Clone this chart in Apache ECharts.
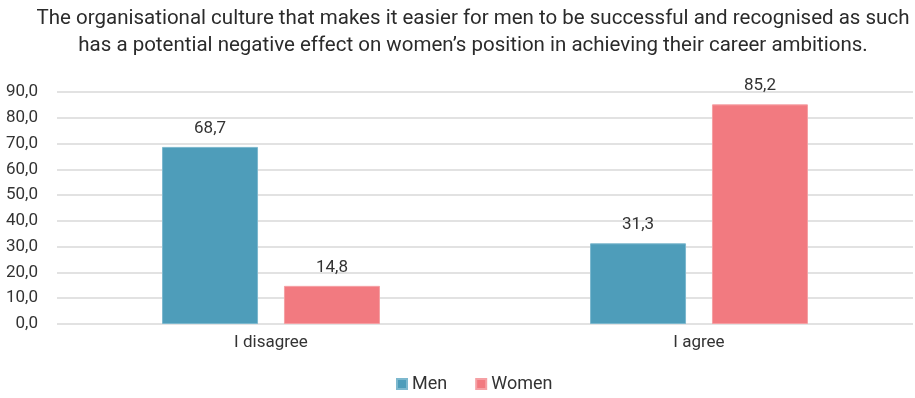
<!DOCTYPE html>
<html><head><meta charset="utf-8">
<script src="https://cdn.jsdelivr.net/npm/echarts@6/dist/echarts.min.js"></script>
<style>html,body{margin:0;padding:0;background:#fff}#c{width:915px;height:398px}</style>
</head><body><div id="c"></div>
<script>
const categories = ['I disagree', 'I agree'];
const men = [68.7, 31.3];
const women = [14.8, 85.2];
const titleText = 'The organisational culture that makes it easier for men to be successful and recognised as such\nhas a potential negative effect on women\u2019s position in achieving their career ambitions.';
const FONT = 'Roboto';
const fmt = v => v.toFixed(1).replace('.', ',');
const chart = echarts.init(document.getElementById('c'));
chart.setOption({
  animation: false,
  textStyle: {fontFamily: FONT},
  title: {text: titleText, left: 468, top: 0, textAlign: 'center',
    textStyle: {fontFamily: FONT, fontSize: 20.5, fontWeight: 'normal', color: '#2b2b2b', lineHeight: 27}},
  legend: {bottom: 0, left: 391, itemWidth: 10, itemHeight: 10, itemGap: 28, icon: 'rect',
    textStyle: {fontFamily: FONT, fontSize: 18, color: '#333'}},
  grid: {left: 57, right: 2, top: 92, bottom: 74},
  xAxis: {type: 'category', data: categories,
    axisLine: {show: false}, axisTick: {show: false},
    axisLabel: {fontFamily: FONT, fontSize: 17, color: '#333', margin: 10}},
  yAxis: {type: 'value', min: 0, max: 90, interval: 10,
    axisLine: {show: false}, axisTick: {show: false},
    splitLine: {lineStyle: {color: '#d9d9d9', width: 1.5}},
    axisLabel: {fontFamily: FONT, fontSize: 17, color: '#333', margin: 19, formatter: v => fmt(v)}},
  series: [
    {name: 'Men', type: 'bar', data: men, barWidth: 96, barGap: '27%',
      itemStyle: {color: '#4E9DBA', borderColor: '#7DB8CE', borderWidth: 1},
      label: {show: true, position: 'top', distance: 10, fontFamily: FONT, fontSize: 17, color: '#333', formatter: p => fmt(p.value)}},
    {name: 'Women', type: 'bar', data: women, barWidth: 96,
      itemStyle: {color: '#F27A80', borderColor: '#F5A0A4', borderWidth: 1},
      label: {show: true, position: 'top', distance: 10, fontFamily: FONT, fontSize: 17, color: '#333', formatter: p => fmt(p.value)}}
  ]
});
</script></body></html>
